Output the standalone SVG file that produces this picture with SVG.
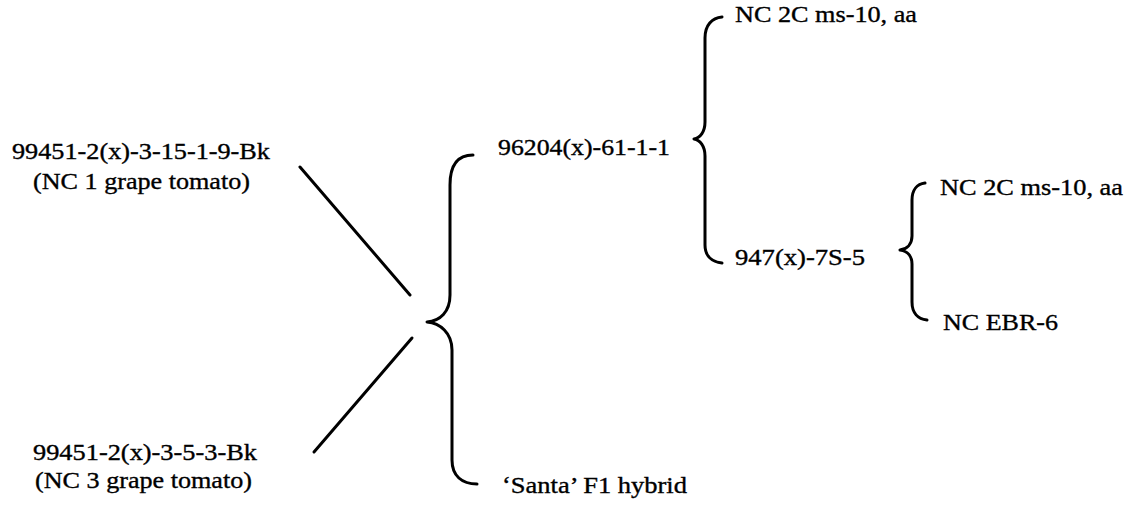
<svg xmlns="http://www.w3.org/2000/svg" width="1140" height="507" viewBox="0 0 1140 507">
<style>
.t{font-family:'Liberation Serif','Times New Roman','DejaVu Serif',serif;font-size:23px;fill:#000;stroke:#000;stroke-width:0.35}
.c{fill:none;stroke:#000;stroke-width:3;stroke-linecap:round;stroke-linejoin:round}
</style>
<rect width="1140" height="507" fill="#fff"/>
<g id="connectors">
<line class="c" x1="300" y1="167" x2="410" y2="295"/>
<line class="c" x1="412" y1="338" x2="314" y2="452"/>
<path class="c" d="M473,155 C458,155 450,165 450,185 L450,295 C450,312 440,321 427,322 C440,323 452,333 452,350 L452,460 C452,476 462,484 477,484"/>
<path class="c" d="M722,17 C712,18 705,25 705,38 L705,122 C705,132 700,138 694,139 C700,140 705,146 705,156 L705,245 C705,256 712,262 722,263"/>
<path class="c" d="M925,183 C917,184 912,190 912,200 L912,236 C912,244 907,249 900,250 C907,251 912,256 912,264 L912,302 C912,313 918,319 927,320"/>
</g>
<g id="parent1" class="t" font-family="Liberation Serif, serif">
<text x="12" y="159" textLength="258" lengthAdjust="spacingAndGlyphs">99451-2(x)-3-15-1-9-Bk</text>
<text x="33" y="189" textLength="217" lengthAdjust="spacingAndGlyphs">(NC 1 grape tomato)</text>
</g>
<g id="parent2" class="t" font-family="Liberation Serif, serif">
<text x="33" y="460" textLength="224" lengthAdjust="spacingAndGlyphs">99451-2(x)-3-5-3-Bk</text>
<text x="35" y="488" textLength="217" lengthAdjust="spacingAndGlyphs">(NC 3 grape tomato)</text>
</g>
<g id="n96204" class="t" font-family="Liberation Serif, serif">
<text x="498" y="155" textLength="172" lengthAdjust="spacingAndGlyphs">96204(x)-61-1-1</text>
</g>
<g id="santa" class="t" font-family="Liberation Serif, serif">
<text x="502" y="493" textLength="185" lengthAdjust="spacingAndGlyphs">‘Santa’ F1 hybrid</text>
</g>
<g id="nc2c-a" class="t" font-family="Liberation Serif, serif">
<text x="735" y="22" textLength="182" lengthAdjust="spacingAndGlyphs">NC 2C ms-10, aa</text>
</g>
<g id="n947" class="t" font-family="Liberation Serif, serif">
<text x="735" y="265" textLength="130" lengthAdjust="spacingAndGlyphs">947(x)-7S-5</text>
</g>
<g id="nc2c-b" class="t" font-family="Liberation Serif, serif">
<text x="940" y="195" textLength="183" lengthAdjust="spacingAndGlyphs">NC 2C ms-10, aa</text>
</g>
<g id="ncebr6" class="t" font-family="Liberation Serif, serif">
<text x="943" y="330" textLength="115" lengthAdjust="spacingAndGlyphs">NC EBR-6</text>
</g>
</svg>
